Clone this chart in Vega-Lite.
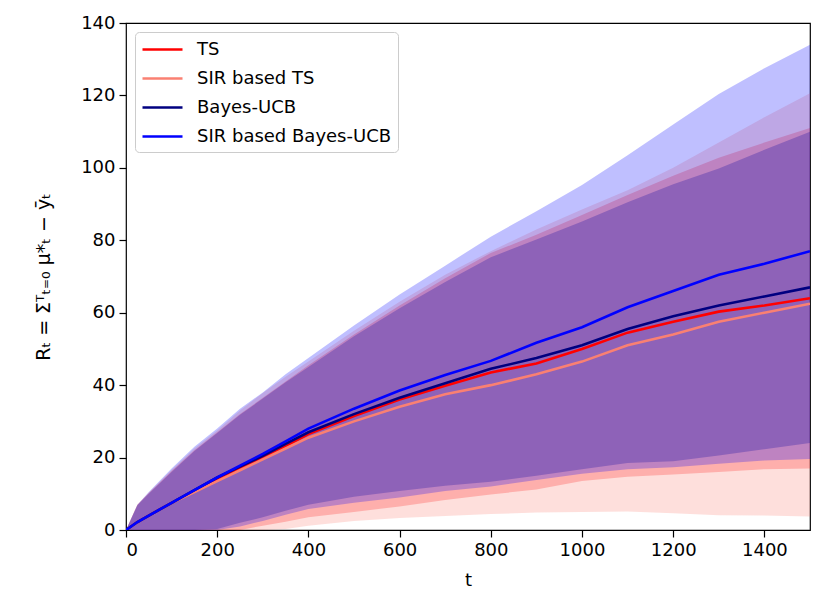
{
  "$schema": "https://vega.github.io/schema/vega-lite/v6.json",
  "width": 684,
  "height": 507,
  "autosize": {"type": "none"},
  "padding": {"left": 126, "top": 23, "right": 21, "bottom": 72},
  "background": "white",
  "config": {
    "font": "DejaVu Sans",
    "view": {"stroke": "black", "strokeWidth": 1.2},
    "axis": {
      "domain": false, "grid": false,
      "tickColor": "black", "tickSize": 7, "tickWidth": 1.2,
      "labelColor": "black", "labelFontSize": 18, "labelFont": "DejaVu Sans",
      "titleFont": "DejaVu Sans", "titleFontSize": 18, "titleColor": "black", "titleFontWeight": "normal",
      "labelPadding": 4
    }
  },
  "data": {"values": [
    {"t":0,"algo":"TS","mean":0,"lo":0,"hi":0},
    {"t":25,"algo":"TS","mean":2.2,"lo":0,"hi":7},
    {"t":50,"algo":"TS","mean":4,"lo":0,"hi":10.2},
    {"t":100,"algo":"TS","mean":7.5,"lo":0,"hi":16.3},
    {"t":150,"algo":"TS","mean":10.8,"lo":0,"hi":22},
    {"t":200,"algo":"TS","mean":14,"lo":0,"hi":27},
    {"t":250,"algo":"TS","mean":17,"lo":0,"hi":32},
    {"t":300,"algo":"TS","mean":20,"lo":1.2,"hi":36.5},
    {"t":350,"algo":"TS","mean":23.2,"lo":2.3,"hi":41},
    {"t":400,"algo":"TS","mean":26.5,"lo":3.5,"hi":45.5},
    {"t":500,"algo":"TS","mean":31.5,"lo":5,"hi":54},
    {"t":600,"algo":"TS","mean":36,"lo":6.5,"hi":62},
    {"t":700,"algo":"TS","mean":39.8,"lo":8.3,"hi":69.5},
    {"t":800,"algo":"TS","mean":43.5,"lo":9.8,"hi":76.5},
    {"t":900,"algo":"TS","mean":46,"lo":11.2,"hi":81.5},
    {"t":1000,"algo":"TS","mean":50,"lo":13.5,"hi":87},
    {"t":1100,"algo":"TS","mean":54.5,"lo":14.7,"hi":92.5},
    {"t":1200,"algo":"TS","mean":57.5,"lo":15.3,"hi":97.8},
    {"t":1300,"algo":"TS","mean":60.3,"lo":16,"hi":102.8},
    {"t":1400,"algo":"TS","mean":62,"lo":16.8,"hi":107},
    {"t":1500,"algo":"TS","mean":64,"lo":17,"hi":111},

    {"t":0,"algo":"SIR based TS","mean":0,"lo":0,"hi":0},
    {"t":25,"algo":"SIR based TS","mean":2.2,"lo":0,"hi":7},
    {"t":50,"algo":"SIR based TS","mean":4,"lo":0,"hi":10.3},
    {"t":100,"algo":"SIR based TS","mean":7.5,"lo":0,"hi":16.6},
    {"t":150,"algo":"SIR based TS","mean":10.5,"lo":0,"hi":22.5},
    {"t":200,"algo":"SIR based TS","mean":13.5,"lo":0,"hi":27.5},
    {"t":250,"algo":"SIR based TS","mean":16.5,"lo":0,"hi":33},
    {"t":300,"algo":"SIR based TS","mean":19.5,"lo":0,"hi":37.8},
    {"t":350,"algo":"SIR based TS","mean":22.5,"lo":0.3,"hi":42.3},
    {"t":400,"algo":"SIR based TS","mean":25.5,"lo":1.2,"hi":46.5},
    {"t":500,"algo":"SIR based TS","mean":30,"lo":2.5,"hi":55},
    {"t":600,"algo":"SIR based TS","mean":34,"lo":3.3,"hi":63},
    {"t":700,"algo":"SIR based TS","mean":37.5,"lo":3.9,"hi":70.5},
    {"t":800,"algo":"SIR based TS","mean":40,"lo":4.4,"hi":77},
    {"t":900,"algo":"SIR based TS","mean":43,"lo":4.8,"hi":83},
    {"t":1000,"algo":"SIR based TS","mean":46.5,"lo":5,"hi":88.5},
    {"t":1100,"algo":"SIR based TS","mean":51,"lo":5.1,"hi":93.8},
    {"t":1200,"algo":"SIR based TS","mean":54,"lo":4.6,"hi":100},
    {"t":1300,"algo":"SIR based TS","mean":57.5,"lo":4.1,"hi":107},
    {"t":1400,"algo":"SIR based TS","mean":60,"lo":4,"hi":114},
    {"t":1500,"algo":"SIR based TS","mean":62.5,"lo":3.7,"hi":120.6},

    {"t":0,"algo":"Bayes-UCB","mean":0,"lo":0,"hi":0},
    {"t":25,"algo":"Bayes-UCB","mean":2.2,"lo":0,"hi":6.8},
    {"t":50,"algo":"Bayes-UCB","mean":4,"lo":0,"hi":10},
    {"t":100,"algo":"Bayes-UCB","mean":7.5,"lo":0,"hi":16},
    {"t":150,"algo":"Bayes-UCB","mean":11,"lo":0,"hi":21.8},
    {"t":200,"algo":"Bayes-UCB","mean":14.5,"lo":0.3,"hi":26.8},
    {"t":250,"algo":"Bayes-UCB","mean":17.5,"lo":2,"hi":31.8},
    {"t":300,"algo":"Bayes-UCB","mean":20.5,"lo":3.5,"hi":36.3},
    {"t":350,"algo":"Bayes-UCB","mean":23.8,"lo":5.3,"hi":40.8},
    {"t":400,"algo":"Bayes-UCB","mean":27,"lo":7,"hi":45},
    {"t":500,"algo":"Bayes-UCB","mean":32,"lo":9.2,"hi":53.5},
    {"t":600,"algo":"Bayes-UCB","mean":36.5,"lo":10.8,"hi":61.2},
    {"t":700,"algo":"Bayes-UCB","mean":40.5,"lo":12.2,"hi":68.5},
    {"t":800,"algo":"Bayes-UCB","mean":44.5,"lo":13.3,"hi":75.3},
    {"t":900,"algo":"Bayes-UCB","mean":47.5,"lo":15,"hi":80.2},
    {"t":1000,"algo":"Bayes-UCB","mean":51,"lo":16.8,"hi":85.2},
    {"t":1100,"algo":"Bayes-UCB","mean":55.5,"lo":18.5,"hi":90.5},
    {"t":1200,"algo":"Bayes-UCB","mean":59,"lo":19,"hi":95.5},
    {"t":1300,"algo":"Bayes-UCB","mean":62,"lo":20.6,"hi":99.8},
    {"t":1400,"algo":"Bayes-UCB","mean":64.5,"lo":22.3,"hi":105},
    {"t":1500,"algo":"Bayes-UCB","mean":67,"lo":24,"hi":110},

    {"t":0,"algo":"SIR based Bayes-UCB","mean":0,"lo":0,"hi":0},
    {"t":25,"algo":"SIR based Bayes-UCB","mean":2.2,"lo":0,"hi":7},
    {"t":50,"algo":"SIR based Bayes-UCB","mean":4,"lo":0,"hi":10.5},
    {"t":100,"algo":"SIR based Bayes-UCB","mean":7.5,"lo":0,"hi":17},
    {"t":150,"algo":"SIR based Bayes-UCB","mean":11,"lo":0,"hi":23},
    {"t":200,"algo":"SIR based Bayes-UCB","mean":14.5,"lo":0,"hi":28},
    {"t":250,"algo":"SIR based Bayes-UCB","mean":17.8,"lo":1,"hi":33.5},
    {"t":300,"algo":"SIR based Bayes-UCB","mean":21,"lo":2.5,"hi":38},
    {"t":350,"algo":"SIR based Bayes-UCB","mean":24.5,"lo":4.2,"hi":43},
    {"t":400,"algo":"SIR based Bayes-UCB","mean":28,"lo":5.8,"hi":47.5},
    {"t":500,"algo":"SIR based Bayes-UCB","mean":33.5,"lo":7.5,"hi":56.5},
    {"t":600,"algo":"SIR based Bayes-UCB","mean":38.5,"lo":9,"hi":65},
    {"t":700,"algo":"SIR based Bayes-UCB","mean":42.8,"lo":10.8,"hi":73},
    {"t":800,"algo":"SIR based Bayes-UCB","mean":46.7,"lo":12,"hi":81},
    {"t":900,"algo":"SIR based Bayes-UCB","mean":51.7,"lo":13.8,"hi":88},
    {"t":1000,"algo":"SIR based Bayes-UCB","mean":56,"lo":15.5,"hi":95.3},
    {"t":1100,"algo":"SIR based Bayes-UCB","mean":61.5,"lo":16.8,"hi":103.5},
    {"t":1200,"algo":"SIR based Bayes-UCB","mean":66,"lo":17.3,"hi":112},
    {"t":1300,"algo":"SIR based Bayes-UCB","mean":70.5,"lo":18.3,"hi":120.4},
    {"t":1400,"algo":"SIR based Bayes-UCB","mean":73.5,"lo":19.2,"hi":127.5},
    {"t":1500,"algo":"SIR based Bayes-UCB","mean":77,"lo":19.6,"hi":134}
  ]},
  "encoding": {
    "x": {"field": "t", "type": "quantitative", "title": "t",
          "scale": {"domain": [0, 1500], "nice": false},
          "axis": {"values": [0,200,400,600,800,1000,1200,1400], "format": "d", "titleY": 55, "titleBaseline": "alphabetic"}}
  },
  "layer": [
    {
      "transform": [{"filter": "datum.algo == 'TS'"}],
      "mark": {"type": "area", "color": "#ff0000", "fillOpacity": 0.25, "clip": true},
      "encoding": {
        "y": {"field": "lo", "type": "quantitative", "stack": null, "title": "Rₜ = Σᵀₜ₌₀ μ*ₜ − ȳₜ",
              "scale": {"domain": [0, 140], "nice": false},
              "axis": {"values": [0,20,40,60,80,100,120,140], "titleX": -83, "titleY": 253.5, "titleAngle": 270, "titleAlign": "center", "titleBaseline": "middle", "titleFontSize": 19}},
        "y2": {"field": "hi"}
      }
    },
    {
      "transform": [{"filter": "datum.algo == 'SIR based TS'"}],
      "mark": {"type": "area", "color": "#fa8072", "fillOpacity": 0.25, "clip": true},
      "encoding": {
        "y": {"field": "lo", "type": "quantitative", "stack": null, "title": "Rₜ = Σᵀₜ₌₀ μ*ₜ − ȳₜ"},
        "y2": {"field": "hi"}
      }
    },
    {
      "transform": [{"filter": "datum.algo == 'Bayes-UCB'"}],
      "mark": {"type": "area", "color": "#000080", "fillOpacity": 0.25, "clip": true},
      "encoding": {
        "y": {"field": "lo", "type": "quantitative", "stack": null, "title": "Rₜ = Σᵀₜ₌₀ μ*ₜ − ȳₜ"},
        "y2": {"field": "hi"}
      }
    },
    {
      "transform": [{"filter": "datum.algo == 'SIR based Bayes-UCB'"}],
      "mark": {"type": "area", "color": "#0000ff", "fillOpacity": 0.25, "clip": true},
      "encoding": {
        "y": {"field": "lo", "type": "quantitative", "stack": null, "title": "Rₜ = Σᵀₜ₌₀ μ*ₜ − ȳₜ"},
        "y2": {"field": "hi"}
      }
    },
    {
      "mark": {"type": "line", "strokeWidth": 2.6, "clip": true},
      "encoding": {
        "y": {"field": "mean", "type": "quantitative", "title": "Rₜ = Σᵀₜ₌₀ μ*ₜ − ȳₜ"},
        "color": {"field": "algo", "type": "nominal",
                  "scale": {"domain": ["TS", "SIR based TS", "Bayes-UCB", "SIR based Bayes-UCB"], "range": ["#ff0000", "#fa8072", "#000080", "#0000ff"]},
                  "legend": {"orient": "top-left", "offset": 9, "title": null,
                             "symbolType": "M-1,0H3", "symbolSize": 400, "symbolStrokeWidth": 2.6,
                             "labelFontSize": 18, "labelColor": "black", "labelFont": "DejaVu Sans", "labelOffset": 33, "labelLimit": 0,
                             "padding": 6, "rowPadding": 8,
                             "fillColor": "white", "strokeColor": "#cccccc", "cornerRadius": 4}}
      }
    }
  ]
}
